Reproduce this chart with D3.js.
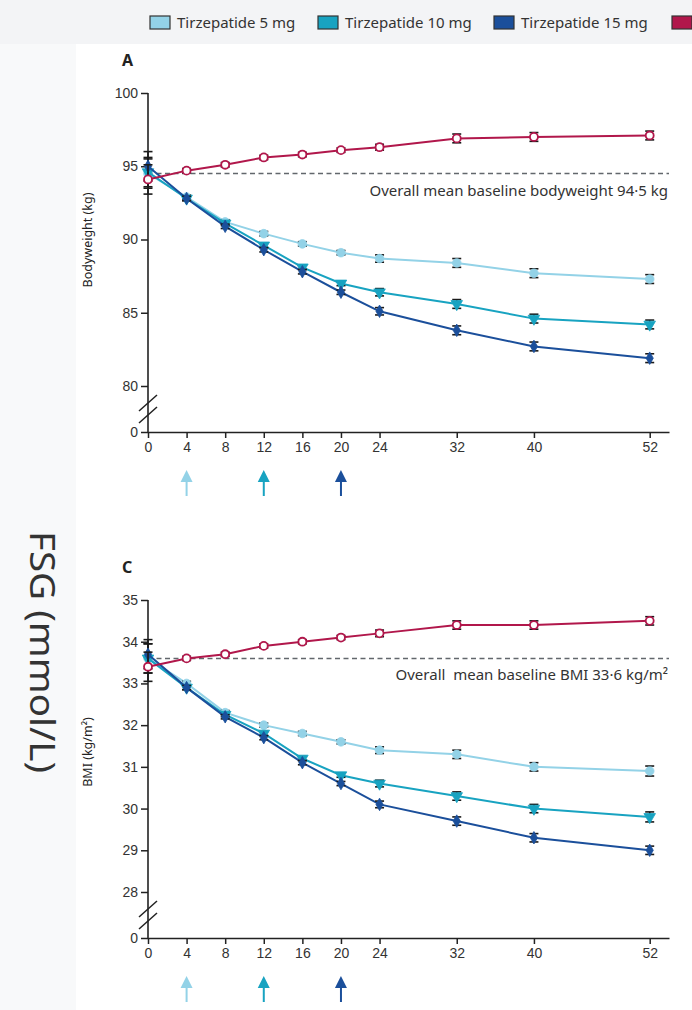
<!DOCTYPE html>
<html>
<head>
<meta charset="utf-8">
<script src="https://cdn.jsdelivr.net/npm/d3@7"></script>
<style>
  body { margin: 0; background: #fff; }
  svg { display: block; font-family: "Noto Sans", "Open Sans", sans-serif; }
  .baseline-label { white-space: pre; }
</style>
</head>
<body>
<div id="chart-area"></div>
<script>
// weeks of treatment
var weeks = [0, 4, 8, 12, 16, 20, 24, 32, 40, 52];
var xTicks = [0, 4, 8, 12, 16, 20, 24, 32, 40, 52];
var escalationWeeks = [4, 12, 20];

var groups = ["Tirzepatide 5 mg", "Tirzepatide 10 mg", "Tirzepatide 15 mg", ""];

// bodyweight (kg), mean and SE
var weight5  = [94.5, 92.9, 91.2, 90.4, 89.7, 89.1, 88.7, 88.4, 87.7, 87.3];
var weight10 = [94.6, 92.8, 91.1, 89.6, 88.1, 87.0, 86.4, 85.6, 84.6, 84.2];
var weight15 = [95.0, 92.8, 90.9, 89.3, 87.8, 86.4, 85.1, 83.8, 82.7, 81.9];
var weightPbo = [94.1, 94.7, 95.1, 95.6, 95.8, 96.1, 96.3, 96.9, 97.0, 97.1];
var weightSe5  = [1.0, 0.15, 0.15, 0.15, 0.15, 0.15, 0.25, 0.3, 0.3, 0.3];
var weightSe10 = [1.0, 0.15, 0.15, 0.15, 0.15, 0.15, 0.25, 0.3, 0.3, 0.3];
var weightSe15 = [1.0, 0.15, 0.15, 0.15, 0.15, 0.15, 0.25, 0.3, 0.3, 0.3];
var weightSePbo = [1.0, 0.15, 0.15, 0.15, 0.15, 0.15, 0.2, 0.3, 0.3, 0.3];
var weightTicks = [0, 80, 85, 90, 95, 100];
var baselineWeight = 94.5;

// BMI (kg/m2), mean and SE
var bmi5  = [33.6, 33.0, 32.3, 32.0, 31.8, 31.6, 31.4, 31.3, 31.0, 30.9];
var bmi10 = [33.6, 32.9, 32.25, 31.8, 31.2, 30.8, 30.6, 30.3, 30.0, 29.8];
var bmi15 = [33.7, 32.9, 32.2, 31.7, 31.1, 30.6, 30.1, 29.7, 29.3, 29.0];
var bmiPbo = [33.4, 33.6, 33.7, 33.9, 34.0, 34.1, 34.2, 34.4, 34.4, 34.5];
var bmiSe5  = [0.35, 0.05, 0.05, 0.05, 0.05, 0.05, 0.08, 0.1, 0.1, 0.12];
var bmiSe10 = [0.35, 0.05, 0.05, 0.05, 0.05, 0.05, 0.08, 0.1, 0.1, 0.12];
var bmiSe15 = [0.35, 0.05, 0.05, 0.05, 0.05, 0.05, 0.08, 0.1, 0.1, 0.1];
var bmiSePbo = [0.35, 0.05, 0.05, 0.05, 0.05, 0.05, 0.08, 0.1, 0.1, 0.1];
var bmiTicks = [0, 28, 29, 30, 31, 32, 33, 34, 35];
var baselineBmi = 33.6;

var colors = ["#93d2e7", "#18a3c1", "#1b4f9b", "#b1174b"];
var symbols = [d3.symbolCircle, d3.symbolTriangle, d3.symbolDiamond, d3.symbolCircle];

var width = 692, height = 1010;

var svg = d3.select("#chart-area")
    .append("svg")
        .attr("width", width)
        .attr("height", height);

// page background strips
svg.append("rect").attr("x", 0).attr("y", 0).attr("width", width).attr("height", 44).attr("fill", "#f3f4f6");
svg.append("rect").attr("x", 0).attr("y", 44).attr("width", 76).attr("height", height - 44).attr("fill", "#f8f9fa");
svg.append("rect").attr("x", 76).attr("y", 44).attr("width", width - 76).attr("height", height - 44).attr("fill", "#fff");

svg.append("text")
    .attr("transform", "translate(30,652) rotate(90)")
    .attr("text-anchor", "middle")
    .attr("font-size", "35px")
    .attr("textLength", 242)
    .attr("lengthAdjust", "spacingAndGlyphs")
    .attr("fill", "#333")
    .text("FSG (mmol/L)");

// legend (last swatch runs into the page edge)
var legendX = [150, 318, 494, 672];
var legend = svg.selectAll(".legend")
    .data(groups)
    .enter()
    .append("g")
        .attr("class", "legend")
        .attr("transform", (d, i) => "translate(" + legendX[i] + ",16)");
legend.append("rect")
    .attr("width", 20).attr("height", 13)
    .attr("fill", (d, i) => colors[i])
    .attr("stroke", "#333").attr("stroke-width", 1.2);
legend.filter(d => d !== "").append("text")
    .attr("x", 27).attr("y", 12)
    .attr("font-size", "15px")
    .attr("fill", "#333")
    .text(d => d);

var x = d3.scaleLinear().domain([0, 54]).range([148, 669]);

function drawPanel(p) {
    var y = d3.scaleLinear().domain(p.domain).range(p.range);
    var g = svg.append("g");

    g.append("text")
        .attr("x", 122).attr("y", p.range[2] - 27)
        .attr("font-size", "16px").attr("font-weight", "bold").attr("fill", "#222")
        .text(p.letter);

    g.append("text")
        .attr("transform", "translate(92," + p.labelY + ") rotate(-90)")
        .attr("text-anchor", "middle")
        .attr("font-size", "12.5px")
        .attr("fill", "#222")
        .text(p.ylabel);

    var yAxis = g.append("g")
        .attr("transform", "translate(148,0)")
        .call(d3.axisLeft(y).tickValues(p.ticks).tickSize(7).tickPadding(3).tickFormat(d3.format("d")));
    var xAxis = g.append("g")
        .attr("transform", "translate(0," + p.range[0] + ")")
        .call(d3.axisBottom(x).tickValues(xTicks).tickSize(6).tickPadding(4).tickSizeOuter(0));
    [yAxis, xAxis].forEach(a => {
        a.select(".domain").attr("stroke", "#222").attr("stroke-width", 1.6);
        a.selectAll(".tick line").attr("stroke", "#222").attr("stroke-width", 1.5);
        a.selectAll(".tick text").attr("font-size", "14px").attr("fill", "#333");
    });
    yAxis.select(".domain").attr("d", "M0," + p.range[0] + "V" + p.range[2]);

    // axis break
    var yb = (p.range[0] + p.range[1]) / 2;
    [-6, 6].forEach(o => {
        g.append("line")
            .attr("x1", 139).attr("y1", yb + o + 8)
            .attr("x2", 157).attr("y2", yb + o - 8)
            .attr("stroke", "#222").attr("stroke-width", 1.5);
    });

    // baseline reference
    g.append("line")
        .attr("x1", 148).attr("x2", 669)
        .attr("y1", y(p.baseline)).attr("y2", y(p.baseline))
        .attr("stroke", "#62676c").attr("stroke-width", 1.5)
        .attr("stroke-dasharray", "5,3.5");
    g.append("text")
        .attr("class", "baseline-label")
        .attr("x", 668).attr("y", y(p.baseline) + 22)
        .attr("text-anchor", "end")
        .attr("font-size", "15px").attr("fill", "#333")
        .text(p.baselineText);

    var line = d3.line().x((d, i) => x(weeks[i])).y(d => y(d));

    p.series.forEach((s, k) => {
        var col = colors[k];
        var sg = g.append("g");
        sg.append("path")
            .datum(s)
            .attr("d", line)
            .attr("fill", "none")
            .attr("stroke", col)
            .attr("stroke-width", 2);
        var pts = s.map((v, i) => ({ w: weeks[i], v: v, se: p.se[k][i] }));
        var eb = sg.selectAll(".eb").data(pts).enter().append("g").attr("stroke", "#1a1a1a").attr("stroke-width", 1.6);
        eb.append("line")
            .attr("x1", d => x(d.w)).attr("x2", d => x(d.w))
            .attr("y1", d => y(d.v - d.se)).attr("y2", d => y(d.v + d.se));
        [-1, 1].forEach(sign => {
            eb.append("line")
                .attr("x1", d => x(d.w) - 4.5).attr("x2", d => x(d.w) + 4.5)
                .attr("y1", d => y(d.v + sign * d.se)).attr("y2", d => y(d.v + sign * d.se));
        });
        sg.selectAll(".pt").data(pts).enter().append("path")
            .attr("transform", d => "translate(" + x(d.w) + "," + y(d.v) + ")" + (k === 1 ? " rotate(180)" : ""))
            .attr("d", d3.symbol().type(symbols[k]).size(k === 3 ? 50 : (k === 2 ? 45 : 58)))
            .attr("fill", k === 3 ? "#fff" : col)
            .attr("stroke", col)
            .attr("stroke-width", k === 3 ? 1.8 : 0.8);
    });

    // dose escalation arrows
    escalationWeeks.forEach((w, i) => {
        var ax = x(w), top = p.range[0] + 38;
        g.append("path")
            .attr("d", "M" + (ax - 6) + "," + (top + 12) + "L" + ax + "," + top + "L" + (ax + 6) + "," + (top + 12) + "Z")
            .attr("fill", colors[i]);
        g.append("line")
            .attr("x1", ax).attr("x2", ax)
            .attr("y1", top + 10).attr("y2", top + 26)
            .attr("stroke", colors[i]).attr("stroke-width", 2);
    });
}

drawPanel({
    letter: "A",
    domain: [0, 80, 100],
    range: [432, 386, 93],
    ticks: weightTicks,
    ylabel: "Bodyweight (kg)",
    labelY: 240,
    baseline: baselineWeight,
    baselineText: "Overall mean baseline bodyweight 94·5 kg",
    series: [weight5, weight10, weight15, weightPbo],
    se: [weightSe5, weightSe10, weightSe15, weightSePbo]
});

drawPanel({
    letter: "C",
    domain: [0, 28, 35],
    range: [938, 892, 600],
    ticks: bmiTicks,
    ylabel: "BMI (kg/m²)",
    labelY: 752,
    baseline: baselineBmi,
    baselineText: "Overall  mean baseline BMI 33·6 kg/m²",
    series: [bmi5, bmi10, bmi15, bmiPbo],
    se: [bmiSe5, bmiSe10, bmiSe15, bmiSePbo]
});
</script>
</body>
</html>
